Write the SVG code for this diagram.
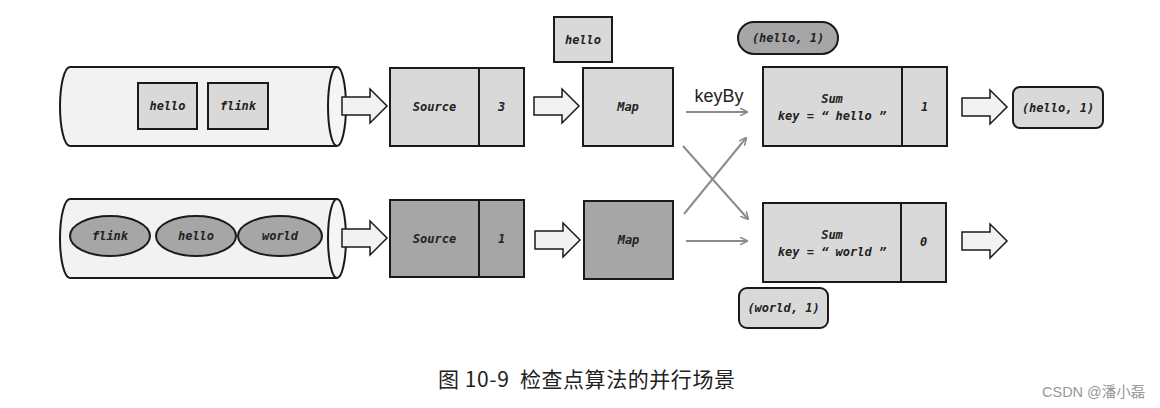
<svg xmlns="http://www.w3.org/2000/svg" width="1160" height="408" viewBox="0 0 1160 408">
<style>
.cyl{fill:#f2f2f2;stroke:#1a1a1a;stroke-width:2}
.cap{fill:#f5f5f5;stroke:#1a1a1a;stroke-width:2}
.lt{fill:#d9d9d9;stroke:#1a1a1a;stroke-width:2}
.dk{fill:#a6a6a6;stroke:#1a1a1a;stroke-width:2}
.ba{fill:#f2f2f2;stroke:#1a1a1a;stroke-width:1.5;stroke-linejoin:miter}
.t{font-family:"DejaVu Sans Mono","Liberation Mono",monospace;font-size:12px;font-style:italic;font-weight:bold;fill:#222;text-anchor:middle;dominant-baseline:central}
.conn{stroke:#8c8c8c;stroke-width:2;fill:none}
</style>
<defs>
<marker id="ah" viewBox="0 0 10 10" refX="9" refY="5" markerWidth="8" markerHeight="8" markerUnits="userSpaceOnUse" orient="auto">
<path d="M0,0 L10,5 L0,10" fill="none" stroke="#8c8c8c" stroke-width="2"/>
</marker>
<path id="blk" d="M0,-9 L28,-9 L28,-17 L45,0 L28,17 L28,9 L0,9 Z"/>
</defs>

<g id="cylinder1">
<path class="cyl" d="M337,67 L70,67 A10,39.5 0 0 0 70,146 L337,146"/>
<ellipse class="cap" cx="337" cy="106.5" rx="9" ry="39.5"/>
<rect class="lt" x="138" y="83" width="59" height="46"/>
<text class="t" x="167.5" y="106">hello</text>
<rect class="lt" x="208" y="83" width="60" height="46"/>
<text class="t" x="238" y="106">flink</text>
</g>

<g id="cylinder2">
<path class="cyl" d="M337,199 L70,199 A10,39.5 0 0 0 70,278 L337,278"/>
<ellipse class="cap" cx="337" cy="238.5" rx="9" ry="39.5"/>
<ellipse class="dk" cx="110" cy="236" rx="40" ry="20"/>
<text class="t" x="110" y="236">flink</text>
<ellipse class="dk" cx="196" cy="236" rx="40" ry="20"/>
<text class="t" x="196" y="236">hello</text>
<ellipse class="dk" cx="280" cy="236" rx="42" ry="20"/>
<text class="t" x="280" y="236">world</text>
</g>

<g id="source1">
<rect class="lt" x="390" y="68" width="134" height="78"/>
<line x1="479" y1="68" x2="479" y2="146" stroke="#1a1a1a" stroke-width="2"/>
<text class="t" x="434.5" y="107">Source</text>
<text class="t" x="501.5" y="107">3</text>
</g>

<g id="source2">
<rect class="dk" x="390" y="200" width="134" height="77"/>
<line x1="479" y1="200" x2="479" y2="277" stroke="#1a1a1a" stroke-width="2"/>
<text class="t" x="434.5" y="239">Source</text>
<text class="t" x="501.5" y="239">1</text>
</g>

<g id="map1">
<rect class="lt" x="583" y="68" width="90" height="78"/>
<text class="t" x="628" y="107">Map</text>
</g>
<g id="hello-record">
<rect class="lt" x="554" y="17" width="58" height="45"/>
<text class="t" x="583" y="39.5">hello</text>
</g>

<g id="map2">
<rect class="dk" x="584" y="201" width="89" height="78"/>
<text class="t" x="628.5" y="240">Map</text>
</g>

<g id="sum1">
<rect class="lt" x="763" y="67" width="184" height="79"/>
<line x1="902" y1="67" x2="902" y2="146" stroke="#1a1a1a" stroke-width="2"/>
<text class="t" x="832" y="99">Sum</text>
<text class="t" x="832" y="116">key = “ hello ”</text>
<text class="t" x="924.5" y="107">1</text>
</g>
<g id="state-hello">
<rect class="dk" x="738" y="22" width="100" height="32" rx="16"/>
<text class="t" x="788" y="38">(hello, 1)</text>
</g>

<g id="sum2">
<rect class="lt" x="763" y="203" width="183" height="79"/>
<line x1="901" y1="203" x2="901" y2="282" stroke="#1a1a1a" stroke-width="2"/>
<text class="t" x="832" y="235">Sum</text>
<text class="t" x="832" y="252">key = “ world ”</text>
<text class="t" x="923.5" y="242">0</text>
</g>
<g id="state-world">
<rect class="lt" x="739" y="288" width="89" height="40" rx="8"/>
<text class="t" x="783.5" y="308">(world, 1)</text>
</g>

<g id="output-hello">
<rect class="lt" x="1013" y="87" width="90" height="41" rx="7"/>
<text class="t" x="1058" y="107.5">(hello, 1)</text>
</g>

<g id="connectors">
<use href="#blk" class="ba" transform="translate(342,106)"/>
<use href="#blk" class="ba" transform="translate(342,238)"/>
<use href="#blk" class="ba" transform="translate(534,106)"/>
<use href="#blk" class="ba" transform="translate(535,240)"/>
<use href="#blk" class="ba" transform="translate(962,107)"/>
<use href="#blk" class="ba" transform="translate(962,241)"/>
<line class="conn" x1="686" y1="112" x2="747" y2="112" marker-end="url(#ah)"/>
<line class="conn" x1="683" y1="146" x2="748" y2="219" marker-end="url(#ah)"/>
<line class="conn" x1="684" y1="214" x2="746" y2="138" marker-end="url(#ah)"/>
<line class="conn" x1="686" y1="241" x2="747" y2="241" marker-end="url(#ah)"/>
<text x="719" y="102" font-family="'Liberation Sans',Arial,sans-serif" font-size="18" fill="#222" text-anchor="middle">keyBy</text>
</g>

<text x="438" y="387" font-family="'Noto Sans CJK SC','Liberation Sans',sans-serif" font-size="21" fill="#222" xml:space="preserve" style="white-space:pre" textLength="297" lengthAdjust="spacing">图 10-9  检查点算法的并行场景</text>
<text x="1042" y="397" font-family="'Liberation Sans','Noto Sans CJK SC',sans-serif" font-size="14.5" fill="#999">CSDN @潘小磊</text>
</svg>
